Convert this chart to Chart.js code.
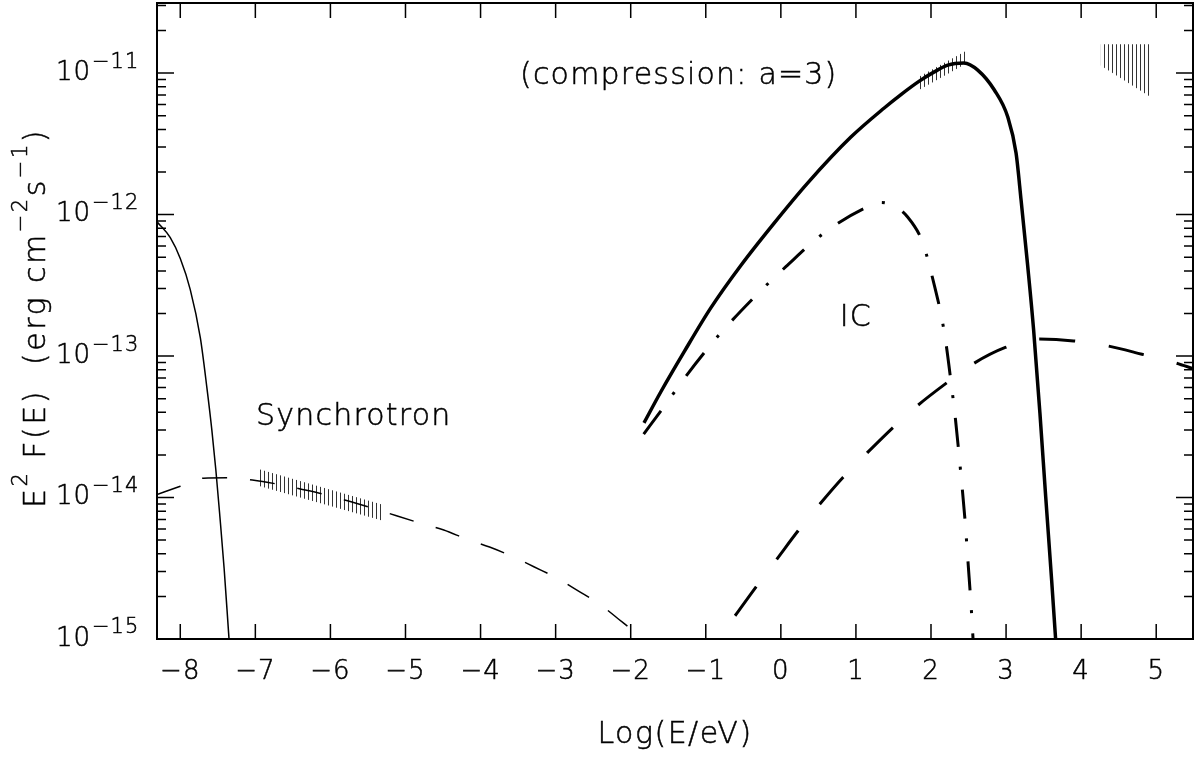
<!DOCTYPE html>
<html>
<head>
<meta charset="utf-8">
<script src="https://cdn.jsdelivr.net/npm/chart.js@4.4.1/dist/chart.umd.min.js"></script>
<style>
  html, body { margin: 0; padding: 0; background: #fff; }
  canvas { display: block; }
</style>
</head>
<body>
<canvas id="sed" width="1195" height="759"></canvas>
<script>
// x = Log(E/eV), y = E^2 F(E) in erg cm^-2 s^-1

// thin solid: steep low-energy component
const thermalX = [-8.307, -8.133, -8.0, -7.867, -7.733, -7.644, -7.58, -7.527, -7.473, -7.416, -7.356, -7.333];
const thermalY = [8.86e-13, 6.87e-13, 4.89e-13, 2.95e-13, 1.35e-13, 5.89e-14, 3.02e-14, 1.585e-14, 7.41e-15, 3.16e-15, 1.1e-15, 7.4e-16];

// thin dashed: synchrotron
const syncX = [-8.31, -8.0, -7.69, -7.36, -7.04, -6.71, -6.4, -6.07, -5.76, -5.43, -5.12, -4.8, -4.49, -4.18, -3.88, -3.57, -3.29, -2.98, -2.70, -2.42, -2.16, -1.91, -1.80];
const syncY = [1.05e-14, 1.2e-14, 1.37e-14, 1.38e-14, 1.33e-14, 1.245e-14, 1.15e-14, 1.05e-14, 9.44e-15, 8.39e-15, 7.43e-15, 6.58e-15, 5.89e-15, 5.07e-15, 4.47e-15, 3.82e-15, 3.24e-15, 2.69e-15, 2.19e-15, 1.77e-15, 1.38e-15, 1.07e-15, 9.3e-16];

// dash-dot: IC
const icX = [-1.827, -1.6, -1.253, -0.823, -0.356, 0.067, 0.577, 1.156, 1.333, 1.507, 1.68, 1.893, 1.973, 2.053, 2.133, 2.193, 2.26, 2.327, 2.393, 2.451, 2.496, 2.536, 2.567];
const icY = [2.81e-14, 4.08e-14, 7.34e-14, 1.41e-13, 2.6e-13, 4.28e-13, 7.43e-13, 1.135e-12, 1.22e-12, 1.15e-12, 9.73e-13, 6.3e-13, 4.47e-13, 3.03e-13, 1.98e-13, 1.3e-13, 7.0e-14, 3.53e-14, 1.56e-14, 7.16e-15, 3.33e-15, 1.66e-15, 8.6e-16];

// thick solid: total
const totalX = [-1.823, -1.6, -1.289, -0.933, -0.533, -0.089, 0.356, 0.933, 1.377, 1.6, 1.844, 2.044, 2.223, 2.44, 2.623, 2.844, 3.023, 3.133, 3.2, 3.287, 3.367, 3.451, 3.528, 3.607, 3.66, 3.687];
const totalY = [3.37e-14, 5.57e-14, 1.07e-13, 2.19e-13, 4.37e-13, 8.71e-13, 1.67e-12, 3.53e-12, 5.67e-12, 7.05e-12, 8.77e-12, 1.02e-11, 1.14e-11, 1.18e-11, 1.05e-11, 7.59e-12, 4.89e-12, 2.72e-12, 1.265e-12, 4.4e-13, 1.53e-13, 3.95e-14, 1.01e-14, 2.61e-15, 1.0e-15, 6.5e-16];

// thick long dashes: hadronic component
const ppX = [-0.61, -0.33, -0.05, 0.23, 0.52, 0.83, 1.15, 1.49, 1.83, 2.20, 2.57, 2.99, 3.41, 3.90, 4.35, 4.81, 5.25, 5.50];
const ppY = [1.46e-15, 2.34e-15, 3.69e-15, 5.82e-15, 8.99e-15, 1.39e-14, 2.07e-14, 3.11e-14, 4.51e-14, 6.41e-14, 8.87e-14, 1.15e-13, 1.32e-13, 1.28e-13, 1.18e-13, 1.03e-13, 8.97e-14, 8.13e-14];

// hatched observational bands: x range, upper and lower edge
const obsLowX = [-6.96, -5.29];
const obsLowHi = [1.59e-14, 8.85e-15];
const obsLowLo = [1.21e-14, 6.82e-15];
const obsMidX = [1.84, 2.47];
const obsMidHi = [9.42e-12, 1.44e-11];
const obsMidLo = [7.59e-12, 1.17e-11];
const obsHighX = [4.26, 4.92];
const obsHighHi = [1.6e-11, 1.6e-11];
const obsHighLo = [1.13e-11, 6.81e-12];

// axes
const xTicks = [-8, -7, -6, -5, -4, -3, -2, -1, 0, 1, 2, 3, 4, 5];
const yDecades = [-15, -14, -13, -12, -11];
const yMinorSteps = [2, 3, 4, 5, 6, 7, 8, 9];
const xRange = [-8.31, 5.49];
const yRange = [1e-15, 3.13e-11];

// text placed in data coordinates
const notes = [
  { text: 'Synchrotron', x: -6.99, y: 3.7e-14, align: 'left' },
  { text: '(compression: a=3)', x: -1.36, y: 9.5e-12, align: 'center' },
  { text: 'IC', x: 1.0, y: 1.86e-13, align: 'center' }
];

const FONT = '"DejaVu Sans", "Liberation Sans", sans-serif';
const W = '300 ';

function pts(xs, ys) {
  return xs.map((x, i) => ({ x: x, y: ys[i] }));
}

function hatchPattern() {
  const c = document.createElement('canvas');
  c.width = 4; c.height = 4;
  const g = c.getContext('2d');
  g.fillStyle = '#333';
  g.fillRect(0, 0, 1, 4);
  return g.createPattern(c, 'repeat');
}
const hatch = hatchPattern();

function curve(xs, ys, width, dash) {
  return {
    data: pts(xs, ys),
    borderColor: '#000',
    borderWidth: width,
    borderDash: dash || [],
    pointRadius: 0,
    fill: false,
    cubicInterpolationMode: 'monotone',
    clip: 0
  };
}

function band(xs, hi, lo) {
  return [
    { data: pts(xs, hi), borderColor: 'rgba(0,0,0,0)', pointRadius: 0, fill: '+1', backgroundColor: hatch, clip: 0 },
    { data: pts(xs, lo), borderColor: 'rgba(0,0,0,0)', pointRadius: 0, fill: false, clip: 0 }
  ];
}

function minus(v) {
  return v < 0 ? '\u2212' + Math.abs(v) : String(v);
}

// thin text with a hairline stroke to match plotter lettering
function label(ctx, s, px, py) {
  ctx.fillText(s, px, py);
  ctx.strokeText(s, px, py);
}

const framePlugin = {
  id: 'frame',
  afterDraw(chart) {
    const { ctx, chartArea: a, scales: { x, y } } = chart;
    ctx.save();
    ctx.strokeStyle = '#000';
    ctx.fillStyle = '#000';

    // inward ticks on all four sides
    ctx.lineWidth = 1.5;
    ctx.beginPath();
    xTicks.forEach(v => {
      const px = x.getPixelForValue(v);
      ctx.moveTo(px, a.bottom); ctx.lineTo(px, a.bottom - 15);
      ctx.moveTo(px, a.top); ctx.lineTo(px, a.top + 15);
    });
    yDecades.forEach(e => {
      const py = y.getPixelForValue(Math.pow(10, e));
      ctx.moveTo(a.left, py); ctx.lineTo(a.left + 17, py);
      ctx.moveTo(a.right, py); ctx.lineTo(a.right - 17, py);
      yMinorSteps.forEach(m => {
        const v = m * Math.pow(10, e);
        if (v > yRange[1]) return;
        const pm = y.getPixelForValue(v);
        ctx.moveTo(a.left, pm); ctx.lineTo(a.left + 9, pm);
        ctx.moveTo(a.right, pm); ctx.lineTo(a.right - 9, pm);
      });
    });
    ctx.stroke();

    ctx.lineWidth = 2;
    ctx.strokeRect(a.left, a.top, a.right - a.left, a.bottom - a.top);

    ctx.lineWidth = 0.5;

    // x tick labels
    ctx.letterSpacing = '1px';
    ctx.font = W + '26px ' + FONT;
    ctx.textAlign = 'center';
    ctx.textBaseline = 'middle';
    xTicks.forEach(v => label(ctx, minus(v), x.getPixelForValue(v), a.bottom + 33));

    // y tick labels 10^n
    yDecades.forEach(e => {
      const py = y.getPixelForValue(Math.pow(10, e));
      ctx.font = W + '26px ' + FONT;
      ctx.textAlign = 'right';
      label(ctx, '10', 91, py);
      ctx.font = W + '21px ' + FONT;
      ctx.textAlign = 'left';
      label(ctx, minus(e), 92, py - 11);
    });

    // axis titles
    ctx.letterSpacing = '1.5px';
    ctx.font = W + '30px ' + FONT;
    ctx.textAlign = 'center';
    label(ctx, 'Log(E/eV)', (a.left + a.right) / 2, 735);

    ctx.letterSpacing = '2.5px';
    const parts = [['E', 0], ['2', 1], [' F(E)  (erg cm', 0], ['\u22122', 1], ['s', 0], ['\u22121', 1], [')', 0]];
    let total = 0;
    parts.forEach(p => {
      ctx.font = W + (p[1] ? '21px ' : '30px ') + FONT;
      total += ctx.measureText(p[0]).width;
    });
    ctx.translate(37, 318);
    ctx.rotate(-Math.PI / 2);
    ctx.textAlign = 'left';
    let cx = -total / 2;
    parts.forEach(p => {
      ctx.font = W + (p[1] ? '21px ' : '30px ') + FONT;
      label(ctx, p[0], cx, p[1] ? -15 : 0);
      cx += ctx.measureText(p[0]).width;
    });
    ctx.setTransform(1, 0, 0, 1, 0, 0);

    // annotations
    ctx.letterSpacing = '1.2px';
    ctx.font = W + '30px ' + FONT;
    notes.forEach(n => {
      ctx.textAlign = n.align;
      label(ctx, n.text, x.getPixelForValue(n.x), y.getPixelForValue(n.y));
    });
    ctx.restore();
  }
};

new Chart(document.getElementById('sed').getContext('2d'), {
  type: 'line',
  data: {
    datasets: [
      curve(totalX, totalY, 3.5),
      curve(icX, icY, 3, [29, 20, 3, 20]),
      curve(ppX, ppY, 3, [36, 34]),
      curve(syncX, syncY, 1.5, [25, 23]),
      curve(thermalX, thermalY, 1.5),
      ...band(obsLowX, obsLowHi, obsLowLo),
      ...band(obsMidX, obsMidHi, obsMidLo),
      ...band(obsHighX, obsHighHi, obsHighLo)
    ]
  },
  options: {
    responsive: false,
    animation: false,
    devicePixelRatio: 1,
    layout: { padding: { left: 157, right: 2, top: 3, bottom: 120 } },
    scales: {
      x: { type: 'linear', min: xRange[0], max: xRange[1], display: false },
      y: { type: 'logarithmic', min: yRange[0], max: yRange[1], display: false }
    },
    plugins: {
      legend: { display: false },
      tooltip: { enabled: false },
      filler: { drawTime: 'beforeDatasetsDraw' }
    }
  },
  plugins: [framePlugin]
});
</script>
</body>
</html>
